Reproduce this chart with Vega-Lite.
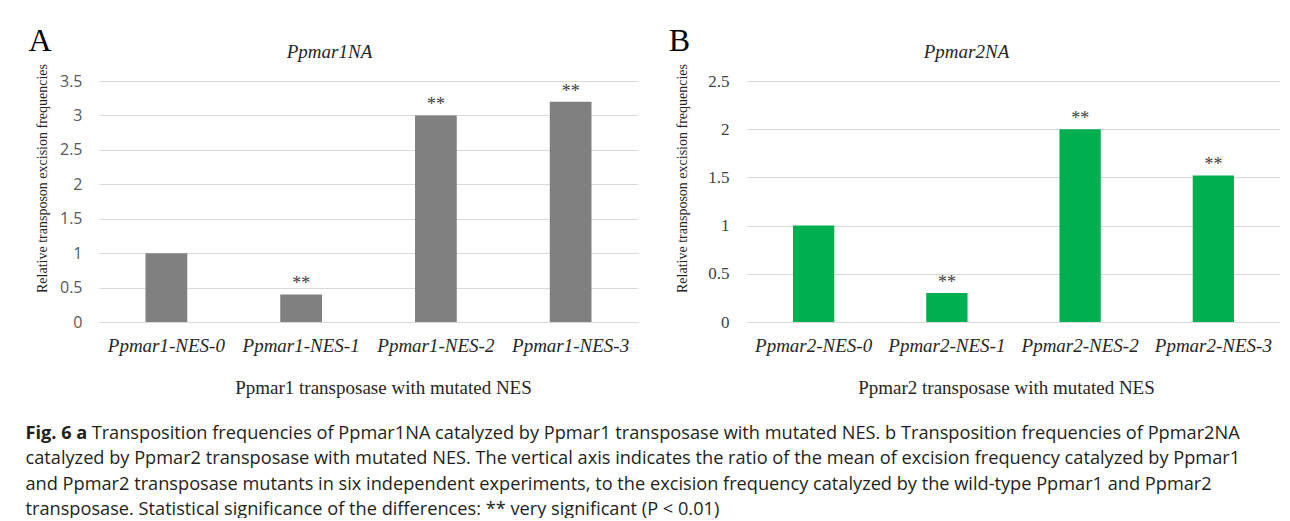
{
  "$schema": "https://vega.github.io/schema/vega-lite/v6.json",
  "background": "white",
  "padding": {"left": 25, "top": 25, "right": 0, "bottom": 0},
  "title": {
    "text": "Fig. 6 a",
    "subtitle": [
      "\u200b\u00a0\u00a0\u00a0\u00a0\u00a0\u00a0\u00a0\u00a0\u00a0\u00a0\u00a0\u00a0\u00a0\u00a0Transposition frequencies of Ppmar1NA catalyzed by Ppmar1 transposase with mutated NES. b Transposition frequencies of Ppmar2NA",
      "catalyzed by Ppmar2 transposase with mutated NES. The vertical axis indicates the ratio of the mean of excision frequency catalyzed by Ppmar1",
      "and Ppmar2 transposase mutants in six independent experiments, to the excision frequency catalyzed by the wild-type Ppmar1 and Ppmar2",
      "transposase. Statistical significance of the differences: ** very significant (P < 0.01)"
    ],
    "orient": "bottom",
    "anchor": "start",
    "frame": "bounds",
    "dx": -3,
    "offset": 28,
    "font": "Open Sans",
    "fontSize": 18.2,
    "fontWeight": "bold",
    "color": "#231f20",
    "lineHeight": 25.2,
    "subtitleFont": "Open Sans",
    "subtitleFontSize": 18.2,
    "subtitleFontWeight": "normal",
    "subtitleColor": "#231f20",
    "subtitleLineHeight": 25.2,
    "subtitlePadding": -18
  },
  "datasets": {
    "a": [
      {"mutant": "Ppmar1-NES-0", "value": 1.0, "sig": ""},
      {"mutant": "Ppmar1-NES-1", "value": 0.4, "sig": "**"},
      {"mutant": "Ppmar1-NES-2", "value": 3.0, "sig": "**"},
      {"mutant": "Ppmar1-NES-3", "value": 3.2, "sig": "**"}
    ],
    "b": [
      {"mutant": "Ppmar2-NES-0", "value": 1.0, "sig": ""},
      {"mutant": "Ppmar2-NES-1", "value": 0.3, "sig": "**"},
      {"mutant": "Ppmar2-NES-2", "value": 2.0, "sig": "**"},
      {"mutant": "Ppmar2-NES-3", "value": 1.52, "sig": "**"}
    ]
  },
  "hconcat": [
    {
      "width": 539,
      "height": 241,
      "data": {"name": "a"},
      "title": {"text": "A", "anchor": "start", "frame": "bounds", "font": "Liberation Serif", "fontSize": 32, "fontWeight": "normal", "color": "#000000", "dx": -7, "dy": 16, "offset": 0, "orient": "top"},
      "encoding": {
        "x": {
          "field": "mutant", "type": "nominal", "sort": null,
          "scale": {"paddingInner": 0.69, "paddingOuter": 0.345},
          "axis": {
            "title": "Ppmar1 transposase with mutated NES",
            "titleFont": "Liberation Serif", "titleFontSize": 19, "titleFontWeight": "normal", "titleColor": "#262626", "titlePadding": 23, "titleX": 284,
            "labelFont": "Liberation Serif", "labelFontStyle": "italic", "labelFontSize": 19, "labelColor": "#262626", "labelPadding": 14, "labelAngle": 0,
            "ticks": false, "domain": false, "grid": false
          }
        },
        "y": {
          "field": "value", "type": "quantitative",
          "scale": {"domain": [0, 3.5], "nice": false},
          "axis": {
            "values": [0, 0.5, 1, 1.5, 2, 2.5, 3, 3.5], "format": "~g",
            "title": "Relative transposon excision frequencies",
            "titleFont": "Liberation Serif", "titleFontSize": 14, "titleFontWeight": "normal", "titleColor": "#262626", "titlePadding": 10, "titleY": 97,
            "labelFont": "Open Sans", "labelFontSize": 16, "labelColor": "#595959", "labelPadding": 17,
            "ticks": false, "domain": false, "gridColor": "#d9d9d9", "gridWidth": 1
          }
        }
      },
      "layer": [
        {"mark": {"type": "bar", "color": "#808080"}},
        {
          "mark": {"type": "text", "baseline": "bottom", "dy": -1, "font": "Liberation Serif", "fontSize": 18, "color": "#404040"},
          "encoding": {
            "text": {"field": "sig"},
            "x": {
              "field": "mutant", "type": "nominal", "sort": null,
              "axis": {"orient": "top", "labels": false, "ticks": false, "domain": false, "grid": false,
                "title": "Ppmar1NA", "titleFont": "Liberation Serif", "titleFontStyle": "italic", "titleFontSize": 19, "titleFontWeight": "normal", "titleColor": "#262626", "titlePadding": 20, "titleX": 230}
            }
          }
        }
      ],
      "resolve": {"axis": {"x": "independent"}}
    },
    {
      "width": 533,
      "height": 241,
      "data": {"name": "b"},
      "title": {"text": "B", "anchor": "start", "frame": "bounds", "font": "Liberation Serif", "fontSize": 32, "fontWeight": "normal", "color": "#000000", "dx": -7, "dy": 16, "offset": 0, "orient": "top"},
      "encoding": {
        "x": {
          "field": "mutant", "type": "nominal", "sort": null,
          "scale": {"paddingInner": 0.69, "paddingOuter": 0.345},
          "axis": {
            "title": "Ppmar2 transposase with mutated NES",
            "titleFont": "Liberation Serif", "titleFontSize": 19, "titleFontWeight": "normal", "titleColor": "#262626", "titlePadding": 23, "titleX": 259,
            "labelFont": "Liberation Serif", "labelFontStyle": "italic", "labelFontSize": 19, "labelColor": "#262626", "labelPadding": 14, "labelAngle": 0,
            "ticks": false, "domain": false, "grid": false
          }
        },
        "y": {
          "field": "value", "type": "quantitative",
          "scale": {"domain": [0, 2.5], "nice": false},
          "axis": {
            "values": [0, 0.5, 1, 1.5, 2, 2.5], "format": "~g",
            "title": "Relative transposon excision frequencies",
            "titleFont": "Liberation Serif", "titleFontSize": 14, "titleFontWeight": "normal", "titleColor": "#262626", "titlePadding": 18, "titleY": 97,
            "labelFont": "Liberation Serif", "labelFontSize": 17, "labelColor": "#404040", "labelPadding": 18,
            "ticks": false, "domain": false, "gridColor": "#d9d9d9", "gridWidth": 1
          }
        }
      },
      "layer": [
        {"mark": {"type": "bar", "color": "#00b050"}},
        {
          "mark": {"type": "text", "baseline": "bottom", "dy": -1, "font": "Liberation Serif", "fontSize": 18, "color": "#404040"},
          "encoding": {
            "text": {"field": "sig"},
            "x": {
              "field": "mutant", "type": "nominal", "sort": null,
              "axis": {"orient": "top", "labels": false, "ticks": false, "domain": false, "grid": false,
                "title": "Ppmar2NA", "titleFont": "Liberation Serif", "titleFontStyle": "italic", "titleFontSize": 19, "titleFontWeight": "normal", "titleColor": "#262626", "titlePadding": 20, "titleX": 219}
            }
          }
        }
      ],
      "resolve": {"axis": {"x": "independent"}}
    }
  ],
  "spacing": 30,
  "config": {"view": {"stroke": null}}
}
